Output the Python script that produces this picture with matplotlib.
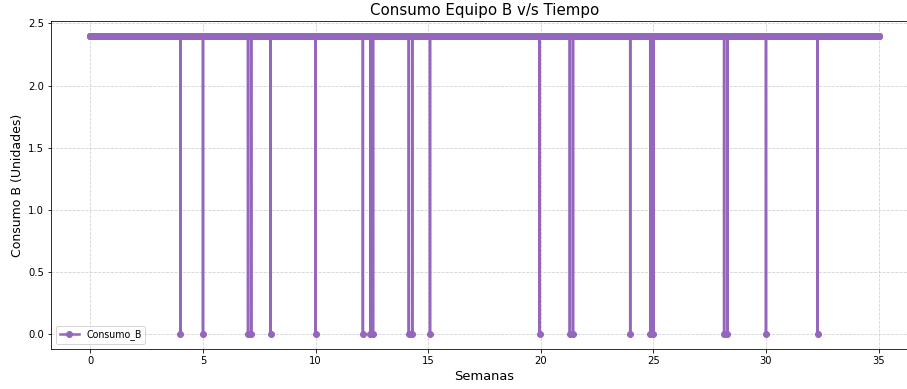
import matplotlib

matplotlib.use("Agg")
import matplotlib.pyplot as plt
import numpy as np

# registro continuo de 35 semanas (paso de 0.002 semana)
weeks = np.linspace(0, 35, 17501)
base_value = 2.4
# semanas en que el consumo cae a cero
zero_weeks = [4.0, 5.0, 7.0, 7.14, 8.0, 10.0, 12.1, 12.43, 12.55, 14.14, 14.29, 15.08,
              19.95, 21.29, 21.43, 23.97, 24.86, 25.0, 28.14, 28.29, 30.0, 32.29]

consumo_b = np.full(weeks.size, base_value)
consumo_b[np.round(np.array(zero_weeks) * 500).astype(int)] = 0.0

fig = plt.figure(figsize=(907 / 72, 389 / 72), dpi=72)
ax = fig.add_axes([51 / 907, 1 - 349 / 389, 867 / 907, 328 / 389])

ax.plot(weeks, consumo_b, color="#9467bd", marker="o", markersize=6,
        linewidth=2.5, label="Consumo_B")

ax.set_title("Consumo Equipo B v/s Tiempo", fontsize=15)
ax.set_xlabel("Semanas", fontsize=13)
ax.set_ylabel("Consumo B (Unidades)", fontsize=12.5)
ax.tick_params(labelsize=10)
ax.grid(True, linestyle="--", color="#d0d0d0", linewidth=0.8)
ax.legend(loc="lower left", fontsize=9.5)

fig.savefig("out.png", dpi=72)
